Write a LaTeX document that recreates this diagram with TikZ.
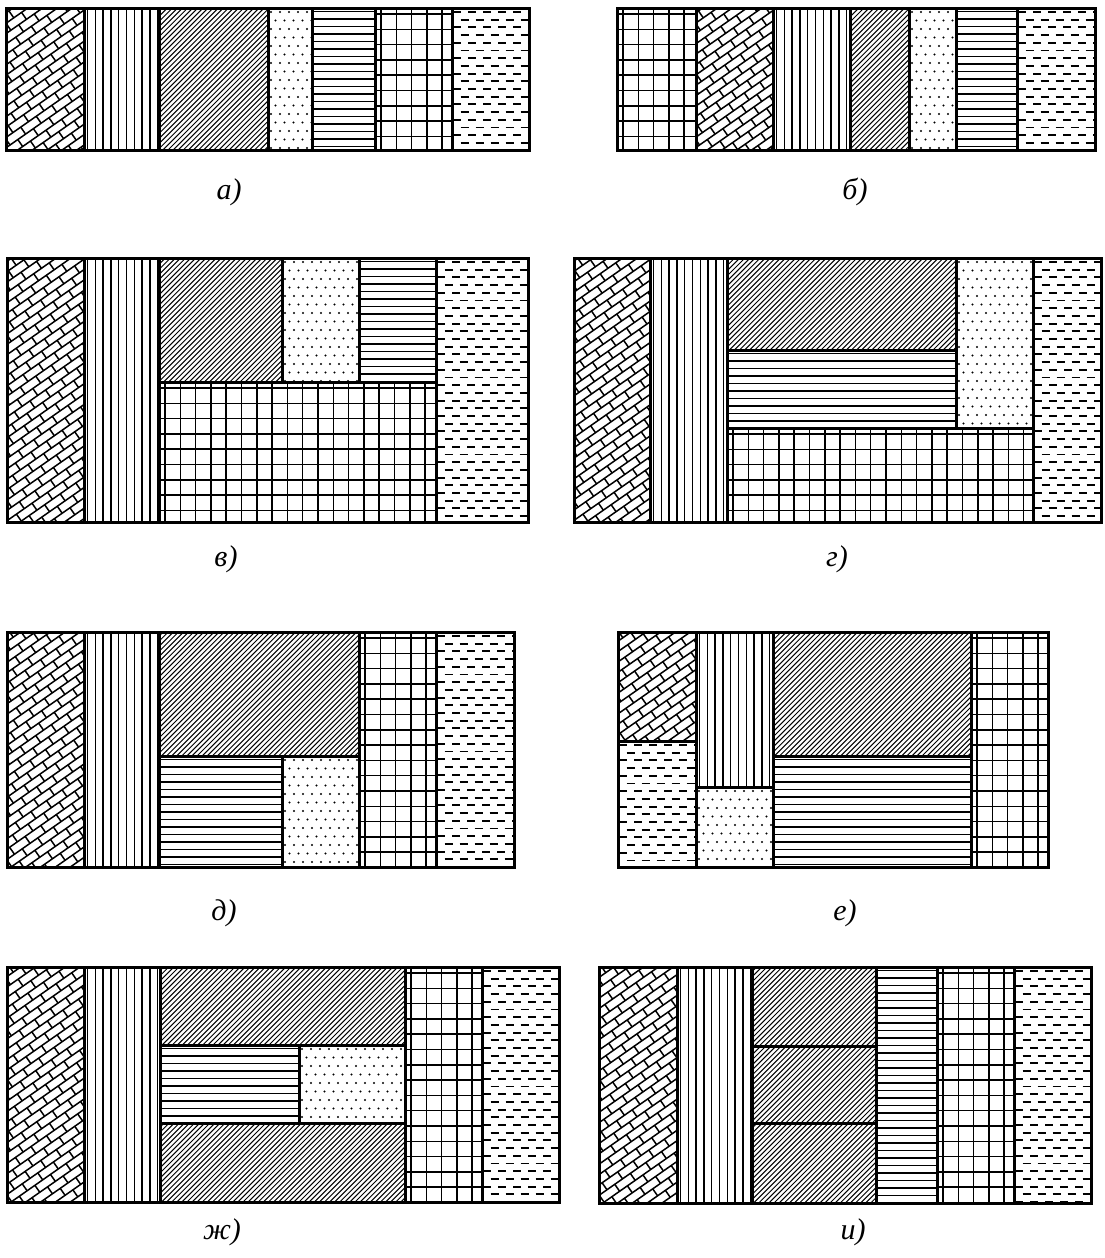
\documentclass[tikz,border=0pt]{standalone}
\usepackage{fontspec}
\setmainfont{Liberation Serif}
\usetikzlibrary{calc}

\tikzset{
  hatchline/.style={line width=1.5pt},
  diagline/.style={line width=1pt},
  dashline/.style={line width=1.9pt},
  panelframe/.style={line width=3pt, line join=miter},
  panelcaption/.style={font=\fontsize{30}{34}\selectfont\itshape, inner sep=0pt},
}

% fills, all take x1 y1 x2 y2 (y pointing down)
\newcommand{\fillvlines}[4]{%
  \begin{scope}
    \clip (#1,#2) rectangle (#3,#4);
    \pgfmathsetmacro{\patS}{#1+3.5}
    \pgfmathsetmacro{\patT}{\patS+7.8}
    \draw[hatchline] \foreach \xx in {\patS,\patT,...,#3} {(\xx,#2) -- (\xx,#4)};
  \end{scope}}
\newcommand{\fillhlines}[4]{%
  \begin{scope}
    \clip (#1,#2) rectangle (#3,#4);
    \pgfmathsetmacro{\patS}{#2+3.5}
    \pgfmathsetmacro{\patT}{\patS+7.5}
    \draw[hatchline] \foreach \yy in {\patS,\patT,...,#4} {(#1,\yy) -- (#3,\yy)};
  \end{scope}}
\newcommand{\fillgrid}[4]{%
  \begin{scope}
    \clip (#1,#2) rectangle (#3,#4);
    \pgfmathsetmacro{\patS}{#1+6}
    \pgfmathsetmacro{\patT}{\patS+15.3}
    \draw[hatchline] \foreach \xx in {\patS,\patT,...,#3} {(\xx,#2) -- (\xx,#4)};
    \pgfmathsetmacro{\patS}{#2+6}
    \pgfmathsetmacro{\patT}{\patS+15.3}
    \draw[hatchline] \foreach \yy in {\patS,\patT,...,#4} {(#1,\yy) -- (#3,\yy)};
  \end{scope}}
\newcommand{\filldashes}[4]{%
  \begin{scope}
    \clip (#1,#2) rectangle (#3,#4);
    \pgfmathtruncatemacro{\patN}{(#4-#2)/7.7}
    \pgfmathtruncatemacro{\patM}{(#3-#1)/15+1}
    \foreach \k in {0,...,\patN} {
      \pgfmathsetmacro{\patO}{#1+1+mod(\k,2)*7.5}
      \pgfmathsetmacro{\patY}{#2+4+\k*7.7}
      \draw[dashline] \foreach \j in {0,...,\patM} {({\patO+\j*15},\patY) -- ({\patO+\j*15+8},\patY)};
    }
  \end{scope}}
\newcommand{\filldots}[4]{%
  \begin{scope}
    \clip (#1,#2) rectangle (#3,#4);
    \pgfmathtruncatemacro{\patN}{(#4-#2)/8.5}
    \pgfmathtruncatemacro{\patM}{(#3-#1)/9+1}
    \foreach \k in {0,...,\patN} {
      \pgfmathsetmacro{\patO}{#1+3+mod(\k,2)*4.5}
      \pgfmathsetmacro{\patY}{#2+4+\k*8.5}
      \fill \foreach \j in {0,...,\patM} {({\patO+\j*9},\patY) circle (1.1pt)};
    }
  \end{scope}}
\newcommand{\filldiag}[4]{%
  \begin{scope}
    \clip (#1,#2) rectangle (#3,#4);
    \pgfmathsetmacro{\patR}{0.5*veclen(#3-#1,#4-#2)+5}
    \pgfmathtruncatemacro{\patN}{\patR/3.6+1}
    \begin{scope}[shift={({(#1+#3)/2},{(#2+#4)/2})}, rotate=45]
      \draw[diagline] \foreach \k in {-\patN,...,\patN} {(-\patR,\k*3.6) -- (\patR,\k*3.6)};
    \end{scope}
  \end{scope}}
\newcommand{\fillbricks}[4]{%
  \begin{scope}
    \clip (#1,#2) rectangle (#3,#4);
    \pgfmathsetmacro{\patR}{0.5*veclen(#3-#1,#4-#2)+20}
    \pgfmathtruncatemacro{\patN}{\patR/8.5+1}
    \pgfmathtruncatemacro{\patM}{\patR/19+1}
    \begin{scope}[shift={({(#1+#3)/2},{(#2+#4)/2})}, rotate=35]
      \draw[hatchline] \foreach \k in {-\patN,...,\patN} {(-\patR,\k*8.5) -- (\patR,\k*8.5)};
      \foreach \k in {-\patN,...,\patN} {
        \pgfmathsetmacro{\patO}{abs(mod(\k,2))*9.5}
        \draw[hatchline] \foreach \j in {-\patM,...,\patM} {({\j*19+\patO},{\k*8.5}) -- ({\j*19+\patO},{\k*8.5+8.5})};
      }
    \end{scope}
  \end{scope}}
\newcommand{\cell}[5]{%
  \csname fill#1\endcsname{#2}{#3}{#4}{#5}%
  \draw[panelframe] (#2,#3) rectangle (#4,#5);}

\begin{document}
\begin{tikzpicture}[x=1pt, y=-1pt]
  \useasboundingbox (0,0) rectangle (1105,1258);

  % a
  \cell{bricks}{6}{8}{84}{150}
  \cell{vlines}{84}{8}{159}{150}
  \cell{diag}{159}{8}{268}{150}
  \cell{dots}{268}{8}{312}{150}
  \cell{hlines}{312}{8}{375}{150}
  \cell{grid}{375}{8}{452}{150}
  \cell{dashes}{452}{8}{529}{150}
  \node[panelcaption] (capA) at (229,192) {а)};

  % b
  \cell{grid}{617}{8}{696}{150}
  \cell{bricks}{696}{8}{773}{150}
  \cell{vlines}{773}{8}{850}{150}
  \cell{diag}{850}{8}{909}{150}
  \cell{dots}{909}{8}{956}{150}
  \cell{hlines}{956}{8}{1017}{150}
  \cell{dashes}{1017}{8}{1095}{150}
  \node[panelcaption] (capB) at (855,192) {б)};

  % v
  \cell{bricks}{7}{258}{84}{522}
  \cell{vlines}{84}{258}{159}{522}
  \cell{diag}{159}{258}{282}{382}
  \cell{dots}{282}{258}{359}{382}
  \cell{hlines}{359}{258}{436}{382}
  \cell{grid}{159}{382}{436}{522}
  \cell{dashes}{436}{258}{528}{522}
  \node[panelcaption] (capV) at (226,559) {в)};

  % g
  \cell{bricks}{574}{258}{650}{522}
  \cell{vlines}{650}{258}{727}{522}
  \cell{diag}{727}{258}{956}{350}
  \cell{hlines}{727}{350}{956}{428}
  \cell{dots}{956}{258}{1033}{428}
  \cell{grid}{727}{428}{1033}{522}
  \cell{dashes}{1033}{258}{1101}{522}
  \node[panelcaption] (capG) at (837,559) {г)};

  % d
  \cell{bricks}{7}{632}{84}{867}
  \cell{vlines}{84}{632}{159}{867}
  \cell{diag}{159}{632}{359}{756}
  \cell{hlines}{159}{756}{282}{867}
  \cell{dots}{282}{756}{359}{867}
  \cell{grid}{359}{632}{436}{867}
  \cell{dashes}{436}{632}{514}{867}
  \node[panelcaption] (capD) at (224,913) {д)};

  % e
  \cell{bricks}{618}{632}{696}{741}
  \cell{dashes}{618}{741}{696}{867}
  \cell{vlines}{696}{632}{773}{787}
  \cell{dots}{696}{787}{773}{867}
  \cell{diag}{773}{632}{971}{756}
  \cell{hlines}{773}{756}{971}{867}
  \cell{grid}{971}{632}{1048}{867}
  \node[panelcaption] (capE) at (845,913) {е)};

  % zh
  \cell{bricks}{7}{967}{84}{1202}
  \cell{vlines}{84}{967}{160}{1202}
  \cell{diag}{160}{967}{405}{1045}
  \cell{hlines}{160}{1045}{299}{1123}
  \cell{dots}{299}{1045}{405}{1123}
  \cell{diag}{160}{1123}{405}{1202}
  \cell{grid}{405}{967}{482}{1202}
  \cell{dashes}{482}{967}{559}{1202}
  \node[panelcaption] (capZh) at (222,1232) {ж)};

  % i
  \cell{bricks}{599}{967}{677}{1203}
  \cell{vlines}{677}{967}{752}{1203}
  \cell{diag}{752}{967}{876}{1046}
  \cell{diag}{752}{1046}{876}{1123}
  \cell{diag}{752}{1123}{876}{1203}
  \cell{hlines}{876}{967}{937}{1203}
  \cell{grid}{937}{967}{1014}{1203}
  \cell{dashes}{1014}{967}{1091}{1203}
  \node[panelcaption] (capI) at (853,1232) {и)};
\end{tikzpicture}
\end{document}
